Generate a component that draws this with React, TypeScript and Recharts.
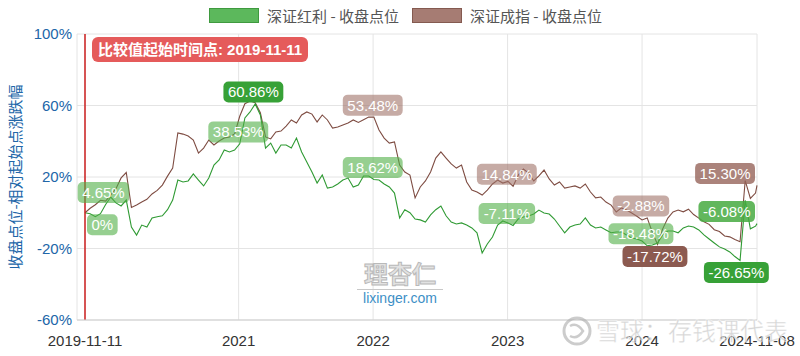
import React from 'react';
import { LineChart, Line, XAxis, YAxis, CartesianGrid, ReferenceLine, ReferenceDot } from 'recharts';

const START_DATE = '2019-11-11';
const LAST_DATE = '2024-11-08';
const STEP_DAYS = 14; // one reading every two weeks, last one on LAST_DATE

// 深证红利 - 收盘点位, % change since START_DATE
const hongliValues = [
  0, -0.6, -2.2, -0.5, 4.65, 8.8, 5.5, 3.8, 7.1, -8,
  -12.5, -6.9, -8, -2.9, -2.2, -1.7, 1.7, 7.1, 18.3, 17.2,
  17.8, 21.7, 18.3, 15, 19.4, 26.7, 29.5, 35.1, 34, 35.1,
  38.53, 53, 56.4, 60.86, 54.7, 36.2, 39, 33.4, 37.9, 37.9,
  36.2, 41.8, 34, 28.4, 22.8, 16.6, 21.1, 13.8, 14.4, 16.1,
  18.3, 19.4, 14.4, 15.5, 20.6, 20.6, 18.62, 18.3, 16.1, 14.4,
  11, -2.9, 1.7, 0, -3.5, -4, -5.2, -1.2, 1.7, 3.8,
  -1.7, -5.2, -6.3, -5.7, -6.9, -8.5, -11.2, -22.5, -17.5, -13.6,
  -6.9, -4.6, -5.7, -7.11, -3.5, -2.4, -1.8, -0.7, 1.5, -0.1,
  -0.7, -3.5, -7.4, -11.2, -8, -6.9, -6.3, -2.9, -6.9, -8.5,
  -8, -9.6, -11.2, -10.8, -10.8, -12.4, -14.1, -14.7, -15.8, -18.48,
  -18, -16.9, -12.4, -10.2, -10.2, -11.2, -8.5, -7.4, -8, -9.6,
  -12.4, -14.7, -16.9, -19.1, -20.3, -21.9, -24.5, -26.65, 7, -9,
  -7.5, -6.08,
];

// 深证成指 - 收盘点位, % change since START_DATE
const chengzhiValues = [
  0, 2.5, 4.5, 7, 6.5, 10, 13.5, 19.5, 22.5, 3,
  4.3, 6, 7.5, 10.5, 12.5, 15.5, 20.5, 25, 44.6, 44,
  42.9, 40.7, 33.4, 36.2, 40.7, 37.9, 40.1, 41.8, 42.4, 44,
  54, 61, 62.5, 61.5, 56, 42.4, 41.3, 45.2, 45.7, 48.5,
  51.9, 50.2, 54.7, 56.4, 55.2, 50.8, 54.7, 51.9, 47.4, 48,
  49.1, 50.2, 51.9, 50.5, 52, 53.5, 53.48, 46.3, 41.8, 39,
  39.6, 26.7, 22.8, 21.1, 8.3, 14.4, 17.8, 22.8, 30.6, 34,
  30.6, 27.3, 25, 26.7, 17.2, 12.7, 11.6, 9.9, 12.7, 16.1,
  18.3, 16.6, 17.5, 14.84, 21.1, 24.5, 22.2, 17.8, 20.6, 23.9,
  18.9, 15.5, 17.2, 13.8, 14.4, 15, 13.8, 16.1, 11.6, 8.3,
  8.8, 6, 4.3, 0.4, 2.7, 1.5, -0.1, -2, -4, -2.88,
  -11, -17.72, -9, -3, 0.5, 1.5, 0.5, 2, -1, -3,
  -5, -6.5, -9.5, -10.5, -13, -13.5, -15, -16.2, 18, 8,
  11, 15.3,
];

const xTickDates = ['2019-11-11', '2021-01-01', '2022-01-01', '2023-01-01', '2024-01-01', '2024-11-08'];
const xTickLabels = ['2019-11-11', '2021', '2022', '2023', '2024', '2024-11-08'];
const yTicks = [-60, -20, 20, 60, 100];

const hongliTags = [
  { date: '2019-11-11', value: 0, tone: 'light', place: 'below', align: 'start' },
  { date: '2019-12-31', value: 4.65, tone: 'light', place: 'above', align: 'middle' },
  { date: '2020-12-31', value: 38.53, tone: 'light', place: 'above', align: 'middle' },
  { date: '2021-02-10', value: 60.86, tone: 'solid', place: 'above', align: 'middle' },
  { date: '2021-12-31', value: 18.62, tone: 'light', place: 'above', align: 'middle' },
  { date: '2022-12-30', value: -7.11, tone: 'light', place: 'above', align: 'middle' },
  { date: '2023-12-29', value: -18.48, tone: 'light', place: 'above', align: 'middle' },
  { date: '2024-09-13', value: -26.65, tone: 'solid', place: 'below', align: 'middle' },
  { date: '2024-11-08', value: -6.08, tone: 'medium', place: 'above', align: 'end' },
];

const chengzhiTags = [
  { date: '2021-12-31', value: 53.48, tone: 'light', place: 'above', align: 'middle' },
  { date: '2022-12-30', value: 14.84, tone: 'light', place: 'above', align: 'middle' },
  { date: '2023-12-29', value: -2.88, tone: 'light', place: 'above', align: 'middle' },
  { date: '2024-02-05', value: -17.72, tone: 'solid', place: 'below', align: 'middle' },
  { date: '2024-11-08', value: 15.3, tone: 'medium', place: 'above', align: 'end' },
];

const GREEN = '#2f9a33';
const BROWN = '#7e4c42';
const BLUE = '#2166a8';
const FONT = "'Liberation Sans', 'Noto Sans CJK SC', sans-serif";
const CJK = "'Noto Sans CJK SC', 'Liberation Sans', sans-serif";

const tagFills: Record<string, Record<string, string>> = {
  hongli: { light: 'rgba(80,175,70,0.6)', medium: 'rgba(70,170,65,0.85)', solid: '#37a137' },
  chengzhi: { light: 'rgba(160,115,105,0.6)', medium: 'rgba(150,100,90,0.8)', solid: '#8c5a50' },
};

const dayOf = (d: string) => Math.round((Date.parse(d) - Date.parse(START_DATE)) / 86400000);
const lastDay = dayOf(LAST_DATE);
const xTickDays = xTickDates.map(dayOf);

const data = hongliValues.map((v, i) => ({
  day: i === hongliValues.length - 1 ? lastDay : i * STEP_DAYS,
  hongli: v,
  chengzhi: chengzhiValues[i],
}));

const pct = (v: number) => (v === 0 ? '0%' : `${v.toFixed(2)}%`);

const tagWidth = (s: string) =>
  [...s].reduce((w, c) => w + (c === '%' ? 13.3 : c === '.' ? 4.2 : c === '-' ? 5 : 8.35), 0) + 9;

function makeTag(text: string, fill: string, place: string, align: string) {
  return (props: any) => {
    const vb = props.viewBox || {};
    const px = vb.x + (vb.width || 0) / 2;
    const py = vb.y + (vb.height || 0) / 2;
    const w = tagWidth(text);
    const h = 21;
    const left = align === 'start' ? px + 2 : align === 'end' ? px - 2 - w : px - w / 2;
    const cy = place === 'above' ? py - 12 : py + 12;
    return (
      <g>
        <rect x={left} y={cy - h / 2} width={w} height={h} rx={5} fill={fill} />
        <text x={left + w / 2} y={cy} dy="0.36em" textAnchor="middle" fill="#fff" fontSize={15} fontFamily={FONT}>
          {text}
        </text>
      </g>
    );
  };
}

const startTag = (props: any) => {
  const vb = props.viewBox || {};
  const left = vb.x + 7;
  const top = vb.y + 3;
  return (
    <g>
      <rect x={left} y={top} width={216} height={25} rx={6} fill="#e55b5b" />
      <text x={left + 108} y={top + 12.5} dy="0.36em" textAnchor="middle" fill="#fff" fontSize={15} fontWeight="bold" fontFamily={FONT}>
        比较值起始时间点: {START_DATE}
      </text>
    </g>
  );
};

const yTitle = (props: any) => {
  const vb = props.viewBox || {};
  const cy = vb.y + vb.height / 2;
  return (
    <text x={16} y={cy} transform={`rotate(-90 16 ${cy})`} textAnchor="middle" dy="0.36em" fill={BLUE} fontSize={15} fontFamily={CJK}>
      收盘点位-相对起始点涨跌幅
    </text>
  );
};

function LegendItem({ color, border, label }: { color: string; border: string; label: string }) {
  return (
    <div style={{ display: 'flex', alignItems: 'center', marginRight: 13 }}>
      <div style={{ width: 48, height: 13, background: color, border: `1px solid ${border}`, marginRight: 8 }} />
      <span style={{ fontSize: 15, color: '#555', fontFamily: CJK }}>{label}</span>
    </div>
  );
}

export default function App() {
  return (
    <div style={{ position: 'absolute', left: 0, top: 0, width: 800, height: 356, background: '#fff', overflow: 'hidden' }}>
      <LineChart width={800} height={356} data={data} margin={{ top: 34, right: 43, bottom: 6, left: 0 }}>
        <CartesianGrid stroke="#e4e4e4" />
        <XAxis
          dataKey="day"
          type="number"
          domain={[0, lastDay]}
          ticks={xTickDays}
          interval={0}
          tickFormatter={(d: number) => xTickLabels[xTickDays.indexOf(d)] ?? ''}
          padding={{ left: 8, right: 0 }}
          height={30}
          tickLine={false}
          tickSize={0}
          tickMargin={15}
          axisLine={{ stroke: '#cfcfcf' }}
          tick={{ fill: '#333', fontSize: 15, fontFamily: FONT }}
        />
        <YAxis
          domain={[-60, 100]}
          ticks={yTicks}
          interval={0}
          width={77}
          tickFormatter={(v: number) => `${v}%`}
          tickLine={false}
          axisLine={false}
          tickSize={0}
          tickMargin={5}
          tick={{ fill: BLUE, fontSize: 15, fontFamily: FONT }}
          label={yTitle}
        />
        <Line dataKey="chengzhi" stroke={BROWN} strokeWidth={1.1} dot={false} isAnimationActive={false} />
        <Line dataKey="hongli" stroke={GREEN} strokeWidth={1.1} dot={false} isAnimationActive={false} />
        <ReferenceLine x={0} stroke="#cc1f1f" strokeWidth={1.5} label={startTag} />
        {chengzhiTags.map((t) => (
          <ReferenceDot
            key={`c-${t.date}`}
            x={dayOf(t.date)}
            y={t.value}
            r={0}
            fill="none"
            stroke="none"
            label={makeTag(pct(t.value), tagFills.chengzhi[t.tone], t.place, t.align)}
          />
        ))}
        {hongliTags.map((t) => (
          <ReferenceDot
            key={`h-${t.date}`}
            x={dayOf(t.date)}
            y={t.value}
            r={0}
            fill="none"
            stroke="none"
            label={makeTag(pct(t.value), tagFills.hongli[t.tone], t.place, t.align)}
          />
        ))}
      </LineChart>

      <div style={{ position: 'absolute', top: 5, left: 12, width: 800, display: 'flex', justifyContent: 'center' }}>
        <LegendItem color="#5cb85c" border="#3f9a3f" label="深证红利 - 收盘点位" />
        <LegendItem color="#a67c73" border="#845a50" label="深证成指 - 收盘点位" />
      </div>

      <div style={{ position: 'absolute', left: 350, top: 258, width: 100, textAlign: 'center', pointerEvents: 'none' }}>
        <div style={{ fontSize: 24, fontWeight: 'bold', color: '#e2e2e2', WebkitTextStroke: '1px #b9b9b9', fontFamily: CJK, lineHeight: '30px' }}>理杏仁</div>
        <div style={{ margin: '1px auto 0', width: 86, borderTop: '1px solid #c8c8c8' }} />
        <div style={{ fontSize: 14, color: '#3d8fc6', fontFamily: FONT, lineHeight: '17px' }}>lixinger.com</div>
      </div>

      <svg width={800} height={356} style={{ position: 'absolute', left: 0, top: 0, pointerEvents: 'none' }}>
        <circle cx={577} cy={331} r={13} fill="none" stroke="rgba(170,170,170,0.6)" strokeWidth={3} />
        <path d="M570 326 Q577 322 583 331 Q577 340 570 336" fill="none" stroke="rgba(170,170,170,0.6)" strokeWidth={2.5} />
        <text x={596} y={331} dy="0.36em" fontSize={24} fontFamily={CJK} fill="rgba(170,170,170,0.55)" stroke="rgba(255,255,255,0.6)" strokeWidth={1}>
          雪球：存钱课代表
        </text>
      </svg>
    </div>
  );
}
